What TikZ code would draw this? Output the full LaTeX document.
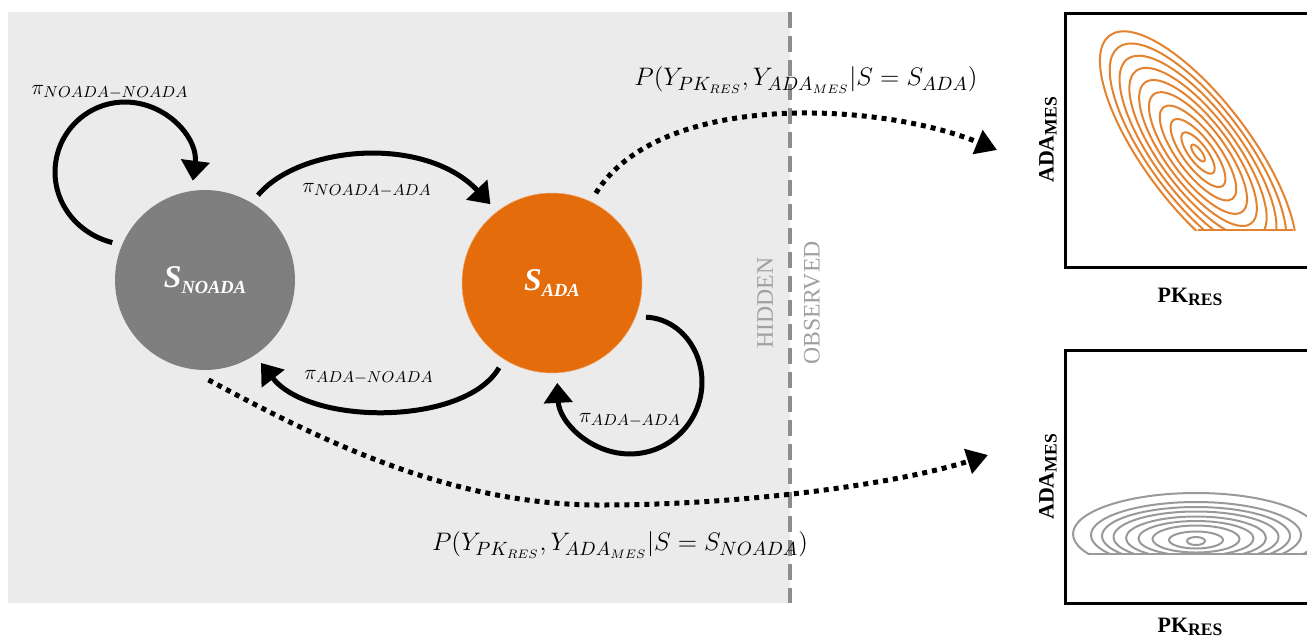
\documentclass[tikz,border=0pt]{standalone}
\usepackage{fontspec}
\setmainfont{Liberation Serif}
\usetikzlibrary{arrows.meta,calc}
\definecolor{bggray}{HTML}{EBEBEB}
\definecolor{noadagray}{HTML}{7F7F7F}
\definecolor{adaorange}{HTML}{E46C0A}
\definecolor{contorange}{HTML}{E3822F}
\definecolor{contgray}{HTML}{999999}
\definecolor{dashgray}{HTML}{8C8C8C}
\definecolor{labgray}{HTML}{A0A0A0}
\begin{document}
\begin{tikzpicture}[x=0.02cm,y=-0.02cm,
  statenode/.style={circle,minimum size=3.6cm,inner sep=0pt,outer sep=0.2cm},
  tarrow/.style={line width=0.1cm,-{Triangle[width=0.56cm,length=0.4cm]}},
  darrow/.style={line width=0.1cm,dash pattern=on 0.1cm off 0.1cm,-{Triangle[width=0.5cm,length=0.42cm]}},
  pilab/.style={font=\fontsize{12.5}{14}\selectfont,inner sep=0pt},
  plab/.style={font=\fontsize{15}{18}\selectfont,inner sep=0pt},
  sidelab/.style={font=\fontsize{13.5}{16}\selectfont,text=labgray,rotate=90,inner sep=0pt},
  axlab/.style={font=\fontsize{12.5}{15}\selectfont\bfseries,inner sep=0pt},
  box/.style={line width=0.06cm,draw=black},
  ocont/.style={line width=0.04cm,draw=contorange},
  gcont/.style={line width=0.04cm,draw=contgray}]
\useasboundingbox (0,0) rectangle (1307,643);
% background and divider
\fill[bggray] (8,12) rectangle (790,603);
\coordinate (dtop) at (790,12);
\coordinate (dbot) at (790,603);
\draw[dashgray,line width=0.08cm,dash pattern=on 0.32cm off 0.16cm] (dtop) -- (dbot);
\node[sidelab] (hidden) at (765,303) {HIDDEN};
\node[sidelab] (observed) at (812,303) {OBSERVED};
% states
\node[statenode,fill=noadagray] (noada) at (205,280)
  {\textcolor{white}{\fontsize{18}{18}\selectfont\bfseries\itshape S\raisebox{-0.4ex}{\fontsize{10.5}{10}\selectfont NOADA}}};
\node[statenode,fill=adaorange,draw=adaorange!60!white,line width=0.3pt] (ada) at (552,283)
  {\textcolor{white}{\fontsize{18}{18}\selectfont\bfseries\itshape S\raisebox{-0.4ex}{\fontsize{10.5}{10}\selectfont ADA}}};
% transitions
\draw[tarrow] (noada.158) .. controls (73.5,232.7) and (49.5,196.9) .. (56.1,159.8)
  .. controls (62.7,122.7) and (97.4,97.5) .. (134.7,102.7)
  .. controls (172,107.9) and (198,140.6) .. (noada.97);
\draw[tarrow] (noada.58) .. controls (300,145) and (425,135) .. (ada.128);
\draw[tarrow] (ada.-122) .. controls (465,426) and (310,426) .. (noada.-56);
\draw[tarrow] (ada.-20) .. controls (680.6,318.5) and (705.8,353) .. (701.5,390.3)
  .. controls (697.2,427.6) and (664.7,455.4) .. (627.1,453.9)
  .. controls (589.5,452.4) and (559.3,422.1) .. (ada.-87);
\node[pilab] (l1) at (110,92) {$\pi_{NOADA-NOADA}$};
\node[pilab] (l2) at (367,190) {$\pi_{NOADA-ADA}$};
\node[pilab] (l3) at (369,377) {$\pi_{ADA-NOADA}$};
\node[pilab] (l4) at (630,420) {$\pi_{ADA-ADA}$};
% emission arrows
\coordinate (topend) at (997,150);
\coordinate (botend) at (988,455);
\draw[darrow] (ada.64) .. controls (660,90) and (880,102) .. (topend);
\draw[darrow] (noada.-88) .. controls (320,440) and (450,505) .. (600,505)
  .. controls (750,505) and (900,483) .. (botend);
\node[plab] (ptop) at (806,80) {$P\bigl(Y_{PK_{RES}},Y_{ADA_{MES}}|S=S_{ADA}\bigr)$};
\node[plab] (pbot) at (620,545) {$P\bigl(Y_{PK_{RES}},Y_{ADA_{MES}}|S=S_{NOADA}\bigr)$};
% top plot
\begin{scope}
\clip (1060,0) rectangle (1307,230);
\foreach \s in {1,0.9,0.8,0.7,0.6,0.5,0.39,0.28,0.17,0.07}{
  \begin{scope}[shift={(1198,153)},rotate=-53]
    \draw[ocont] (0,0) ellipse [x radius={147*\s}, y radius={53*\s}];
  \end{scope}}
\end{scope}
\draw[ocont] (1198,230) -- (1293,230);
\draw[box] (1330,13) -- (1065,13) -- (1065,267) -- (1330,267);
\node[axlab,rotate=90] (ya1) at (1048,140) {ADA\raisebox{-0.3ex}{\fontsize{10}{12}\selectfont MES}};
\node[axlab] (xa1) at (1190,297) {PK\raisebox{-0.3ex}{\fontsize{10}{12}\selectfont RES}};
% bottom plot
\begin{scope}
\clip (1060,340) rectangle (1307,554);
\foreach \rx/\ry/\cy in {123/41/534,105/33/535,94/29/536,82.5/25.5/537,70/21.5/538,57.5/17.5/538.5,43.5/13.5/539,27/8.5/540,9/4/541}{
  \draw[gcont] (1196,\cy) ellipse [x radius=\rx, y radius=\ry];}
\end{scope}
\draw[gcont] (1089,554) -- (1307,554);
\draw[box] (1330,350) -- (1065,350) -- (1065,603) -- (1330,603);
\node[axlab,rotate=90] (ya2) at (1048,477) {ADA\raisebox{-0.3ex}{\fontsize{10}{12}\selectfont MES}};
\node[axlab] (xa2) at (1190,627) {PK\raisebox{-0.3ex}{\fontsize{10}{12}\selectfont RES}};
\end{tikzpicture}
\end{document}
